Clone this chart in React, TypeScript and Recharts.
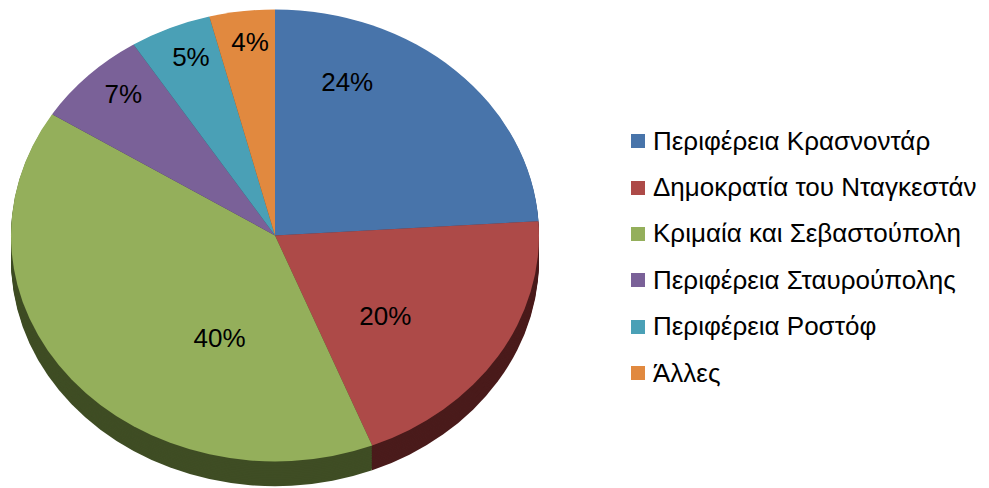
import { PieChart, Pie, Cell } from "recharts";

const regions = [
  "Περιφέρεια Κρασνοντάρ",
  "Δημοκρατία του Νταγκεστάν",
  "Κριμαία και Σεβαστούπολη",
  "Περιφέρεια Σταυρούπολης",
  "Περιφέρεια Ροστόφ",
  "Άλλες",
];
const shares = [24, 20, 40, 7, 5, 4];

const topColors = ["#4874AA", "#AD4A48", "#94AF5B", "#7A6198", "#4AA0B6", "#E1893F"];
const sideColors = ["#2B4468", "#4A1B1B", "#3F4D24", "#3E3050", "#23515C", "#7A4820"];

// where the percentage labels sit: angle (deg) and fraction of radius
const labelAngle = [68, -40.6, -114.8, 132.5, 112, 96.3];
const labelRadius = [0.73, 0.55, 0.5, 0.85, 0.85, 0.86];

// squash factor that turns the circle into the tilted ellipse
const TILT = 0.856;
const R = 264;
const CX = 270;
const CY = 270;
const depthSteps = [29, 27, 25, 23, 21, 19, 17, 15, 13, 11, 9, 7, 5, 3, 1];

const data = regions.map((name, i) => ({ name, value: shares[i] }));

function renderLabel(props: any) {
  const { cx, cy, outerRadius, percent, index } = props;
  const a = (labelAngle[index] * Math.PI) / 180;
  const r = outerRadius * labelRadius[index];
  const x = cx + r * Math.cos(a);
  const y = cy - r * Math.sin(a);
  return (
    <g transform={`translate(${x},${y}) scale(1,${1 / TILT})`}>
      <text
        x={0}
        y={0}
        textAnchor="middle"
        dominantBaseline="central"
        fill="#000"
        fontSize={26}
        fontFamily="'Liberation Sans', Arial, sans-serif"
      >
        {`${Math.round(percent * 100)}%`}
      </text>
    </g>
  );
}

export default function App() {
  return (
    <div
      style={{
        position: "absolute",
        left: 0,
        top: 0,
        width: 989,
        height: 488,
        background: "#fff",
        overflow: "hidden",
      }}
    >
      <div
        style={{
          position: "absolute",
          left: 0,
          top: 0,
          transform: `scaleY(${TILT})`,
          transformOrigin: "0 0",
        }}
      >
        <PieChart width={560} height={572}>
          {depthSteps.map((d) => (
            <Pie
              key={`side-${d}`}
              data={data}
              dataKey="value"
              cx={CX}
              cy={CY + d}
              outerRadius={R}
              startAngle={90}
              endAngle={-270}
              stroke="none"
              isAnimationActive={false}
              labelLine={false}
            >
              {data.map((_, i) => (
                <Cell key={i} fill={sideColors[i]} />
              ))}
            </Pie>
          ))}
          <Pie
            data={data}
            dataKey="value"
            cx={CX}
            cy={CY}
            outerRadius={R}
            startAngle={90}
            endAngle={-270}
            stroke="none"
            isAnimationActive={false}
            labelLine={false}
            label={renderLabel}
          >
            {data.map((_, i) => (
              <Cell key={i} fill={topColors[i]} />
            ))}
          </Pie>
        </PieChart>
      </div>
      <div
        style={{
          position: "absolute",
          left: 631,
          top: 118,
          fontFamily: "'Liberation Sans', Arial, sans-serif",
          fontSize: 26,
          color: "#000",
        }}
      >
        {regions.map((name, i) => (
          <div
            key={name}
            style={{ display: "flex", alignItems: "center", height: 46.4, whiteSpace: "nowrap" }}
          >
            <span
              style={{
                display: "inline-block",
                width: 14,
                height: 14,
                background: topColors[i],
                marginRight: 8,
              }}
            />
            <span>{name}</span>
          </div>
        ))}
      </div>
    </div>
  );
}
